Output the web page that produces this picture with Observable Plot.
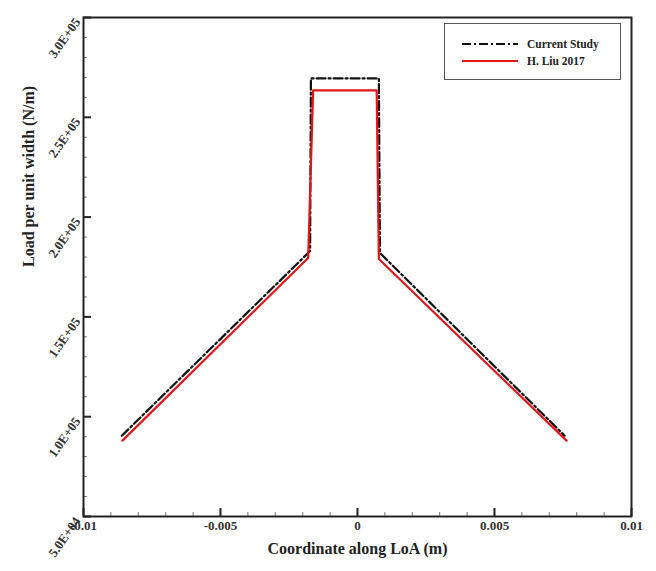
<!DOCTYPE html>
<html>
<head>
<meta charset="utf-8">
<script src="https://cdn.jsdelivr.net/npm/d3@7"></script>
<script src="https://cdn.jsdelivr.net/npm/@observablehq/plot@0.6"></script>
<style>
  body { margin: 0; background: #fff; }
  #wrap { position: relative; width: 656px; height: 571px; }
  #legend {
    position: absolute; left: 444px; top: 23px; width: 177px; height: 57px;
    border: 1.5px solid #555; background: #fff; box-sizing: border-box;
    font-family: "Liberation Serif", serif; font-weight: bold; font-size: 11.5px; color: #222;
  }
  #legend .row { position: absolute; left: 17px; display: flex; align-items: center; }
  #legend svg { margin-right: 9px; }
</style>
</head>
<body>
<div id="wrap">
  <div id="chart"></div>
  <div id="legend">
    <div class="row" style="top:14px"><svg width="56" height="6"><line x1="0" y1="3" x2="56" y2="3" stroke="#111" stroke-width="2.2" stroke-dasharray="9,3,2,3"/></svg>Current Study</div>
    <div class="row" style="top:31px"><svg width="56" height="6"><line x1="0" y1="3" x2="56" y2="3" stroke="#e0161b" stroke-width="2.2"/></svg>H. Liu 2017</div>
  </div>
</div>
<script>
// Series: Current Study (black dash-dot)
const currentX = [-0.0086, -0.00173, -0.0017, 0.00078, 0.00082, 0.00756];
const currentY = [90500, 183000, 269500, 269500, 182000, 90500];
// Series: H. Liu 2017 (red)
const liuX = [-0.00858, -0.0018, -0.00162, 0.0007, 0.00078, 0.00763];
const liuY = [88000, 179500, 263500, 263500, 179000, 88000];

// Axis ticks
const xTicks = [-0.01, -0.005, 0, 0.005, 0.01];
const xTickLabels = ["-0.01", "-0.005", "0", "0.005", "0.01"];
const xMinor = [-0.009,-0.008,-0.007,-0.006,-0.004,-0.003,-0.002,-0.001,0.001,0.002,0.003,0.004,0.006,0.007,0.008,0.009];
const yTicks = [50000, 100000, 150000, 200000, 250000, 300000];
const yTickLabels = ["5.0E+04", "1.0E+05", "1.5E+05", "2.0E+05", "2.5E+05", "3.0E+05"];
const yMinor = [60000,70000,80000,90000,110000,120000,130000,140000,160000,170000,180000,190000,210000,220000,230000,240000,260000,270000,280000,290000];

const current = currentX.map((x, i) => ({x, y: currentY[i]}));
const liu = liuX.map((x, i) => ({x, y: liuY[i]}));

const W = 656, H = 571, mL = 83, mR = 25, mT = 17, mB = 55;
const innerW = W - mL - mR, innerH = H - mT - mB;

const chart = Plot.plot({
  width: W, height: H,
  marginLeft: mL, marginRight: mR, marginTop: mT, marginBottom: mB,
  x: {domain: [-0.01, 0.01], axis: null},
  y: {domain: [50000, 300000], axis: null},
  style: {fontFamily: "'Liberation Serif', serif", fontWeight: "bold", color: "#222", background: "#fff"},
  marks: [
    Plot.tickX(xMinor, {x: d => d, insetTop: innerH - 4, stroke: "#777", strokeWidth: 1}),
    Plot.tickX(xTicks, {x: d => d, insetTop: innerH - 8, stroke: "#222", strokeWidth: 2}),
    Plot.tickY(yMinor, {y: d => d, insetRight: innerW - 4, stroke: "#777", strokeWidth: 1}),
    Plot.tickY(yTicks, {y: d => d, insetRight: innerW - 8, stroke: "#222", strokeWidth: 2}),
    Plot.line(current, {x: "x", y: "y", stroke: "#111", strokeWidth: 2.2, strokeDasharray: "9,3,2,3"}),
    Plot.line(liu, {x: "x", y: "y", stroke: "#e0161b", strokeWidth: 2.2}),
    Plot.text(xTicks, {x: d => d, frameAnchor: "bottom", dy: 13, text: (d, i) => xTickLabels[i], fontSize: 13, fill: "#333"}),
    Plot.text(yTicks, {y: d => d, frameAnchor: "left", dx: -6, dy: 2, rotate: -55, textAnchor: "end", text: (d, i) => yTickLabels[i], fontSize: 13, fill: "#333"}),
    Plot.text(["Coordinate along LoA (m)"], {frameAnchor: "bottom", dy: 37, fontSize: 16, fill: "#222"}),
    Plot.text(["Load per unit width (N/m)"], {frameAnchor: "left", dx: -55, rotate: -90, fontSize: 16, fill: "#222"}),
    Plot.frame({stroke: "#222", strokeWidth: 2})
  ]
});
document.getElementById("chart").appendChild(chart);
</script>
</body>
</html>
